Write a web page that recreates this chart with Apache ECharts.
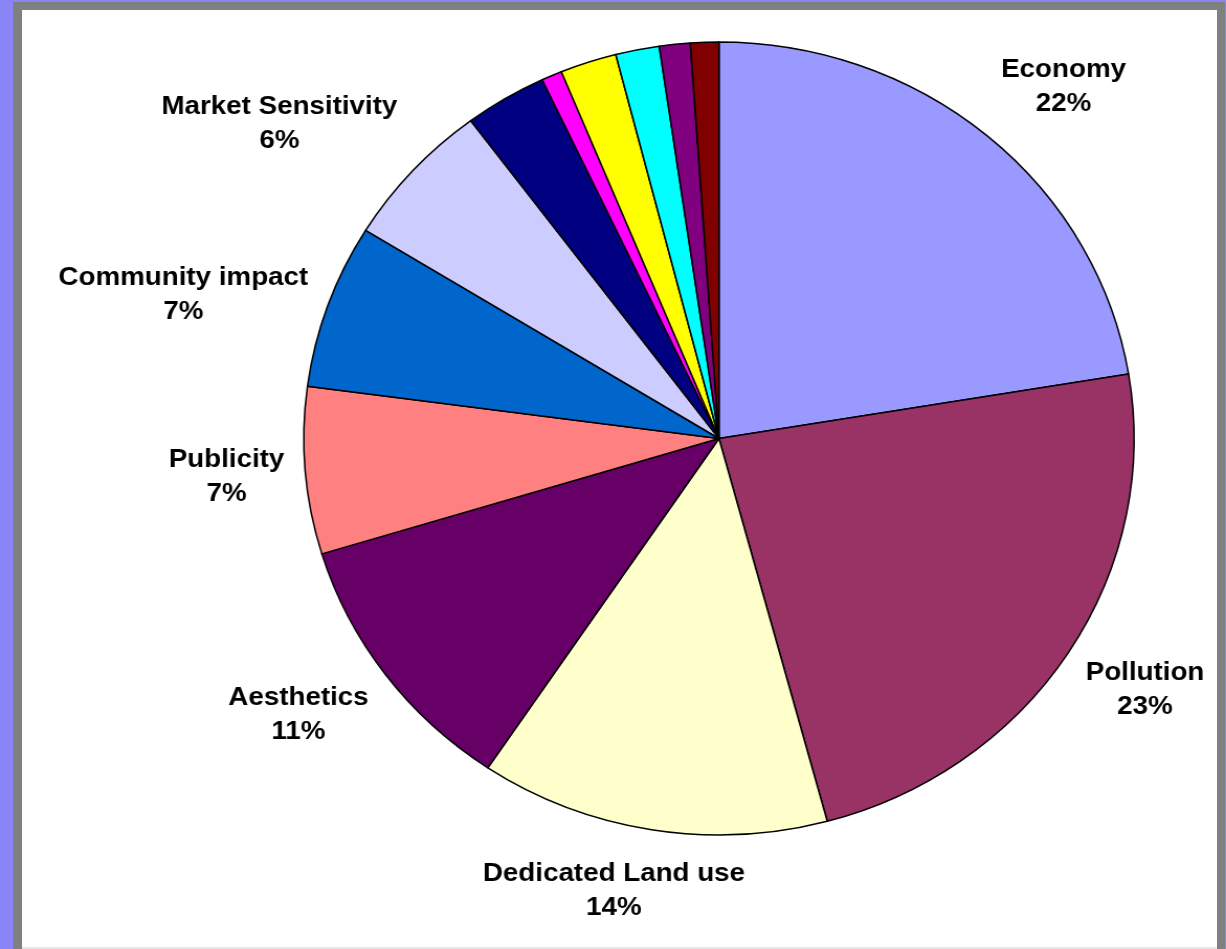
<!DOCTYPE html>
<html>
<head>
<meta charset="utf-8">
<title>Pie chart</title>
<script src="https://cdn.jsdelivr.net/npm/echarts@6/dist/echarts.min.js"></script>
<style>
  html, body { margin: 0; padding: 0; width: 1226px; height: 949px; overflow: hidden; background: #8b84f7; }
  #frame { position: absolute; left: 13px; top: 2px; width: 1212px; height: 947px; background: #808080; }
  #paper { position: absolute; left: 22px; top: 10px; width: 1195px; height: 937px; background: #ffffff; border-bottom: 2px solid #e6e6e6; }
  /* the pie is drawn slightly wider than tall */
  #chart { position: absolute; left: 0; top: 0; width: 1171px; height: 949px; transform: scaleX(1.047); transform-origin: 0 0; }
</style>
</head>
<body>
<div id="frame"></div>
<div id="paper"></div>
<div id="chart"></div>
<script>
// Slice names (small unlabeled slices have no caption)
const categories = [
  'Economy', 'Pollution', 'Dedicated Land use', 'Aesthetics', 'Publicity',
  'Community impact', 'Market Sensitivity', '', '', '', '', '', ''
];
// Share of each slice, percent
const shares = [22.4, 23.4, 13.6, 10.9, 6.8, 6.7, 6.0, 3.2, 0.8, 2.2, 1.7, 1.2, 1.1];
// Fill colour of each slice
const sliceColors = [
  '#9999ff', '#993366', '#ffffcc', '#660066', '#ff8080', '#0066cc',
  '#ccccff', '#000080', '#ff00ff', '#ffff00', '#00ffff', '#800080', '#800000'
];

const CX = 686.7, CY = 438.5, R = 396.5, GAP = 20;
const total = shares.reduce((a, b) => a + b, 0);
const clamp = (v, lo, hi) => Math.max(lo, Math.min(hi, v));

// Put each caption just outside its slice: the caption box sits beside the
// point on the slice's middle direction, sliding to centred near the axes
function placeLabel(p) {
  const i = p.dataIndex;
  let before = 0;
  for (let k = 0; k < i; k++) before += shares[k];
  const mid = (before + shares[i] / 2) / total * Math.PI * 2;
  const s = Math.sin(mid), c = Math.cos(mid);
  const hw = p.labelRect.width / 2, hh = p.labelRect.height / 2;
  const fx = clamp(s * 1.6, -1, 1);
  const fy = c > 0 ? -clamp((c - 0.3) * 3, 0, 1) : clamp(-c * 1.4, 0, 1.2);
  return {
    x: CX + (R + GAP) * s + hw * fx,
    y: CY - (R + GAP) * c + hh * fy,
    align: 'center',
    verticalAlign: 'middle'
  };
}

const chart = echarts.init(document.getElementById('chart'), null, { renderer: 'canvas' });
chart.setOption({
  animation: false,
  series: [{
    type: 'pie',
    center: [CX, CY],
    radius: R,
    startAngle: 90,
    clockwise: true,
    avoidLabelOverlap: false,
    itemStyle: { borderColor: '#000000', borderWidth: 1.5 },
    label: {
      show: true,
      position: 'outside',
      formatter: p => p.name + '\n' + Math.round(p.percent) + '%',
      fontFamily: 'Liberation Sans, Arial, sans-serif',
      fontWeight: 'bold',
      fontSize: 26.5,
      lineHeight: 34,
      color: '#000000'
    },
    labelLine: { show: false },
    labelLayout: placeLabel,
    emphasis: { disabled: true },
    data: shares.map((v, i) => ({
      name: categories[i],
      value: v,
      itemStyle: { color: sliceColors[i] },
      label: { show: categories[i] !== '' }
    }))
  }]
});
</script>
</body>
</html>
